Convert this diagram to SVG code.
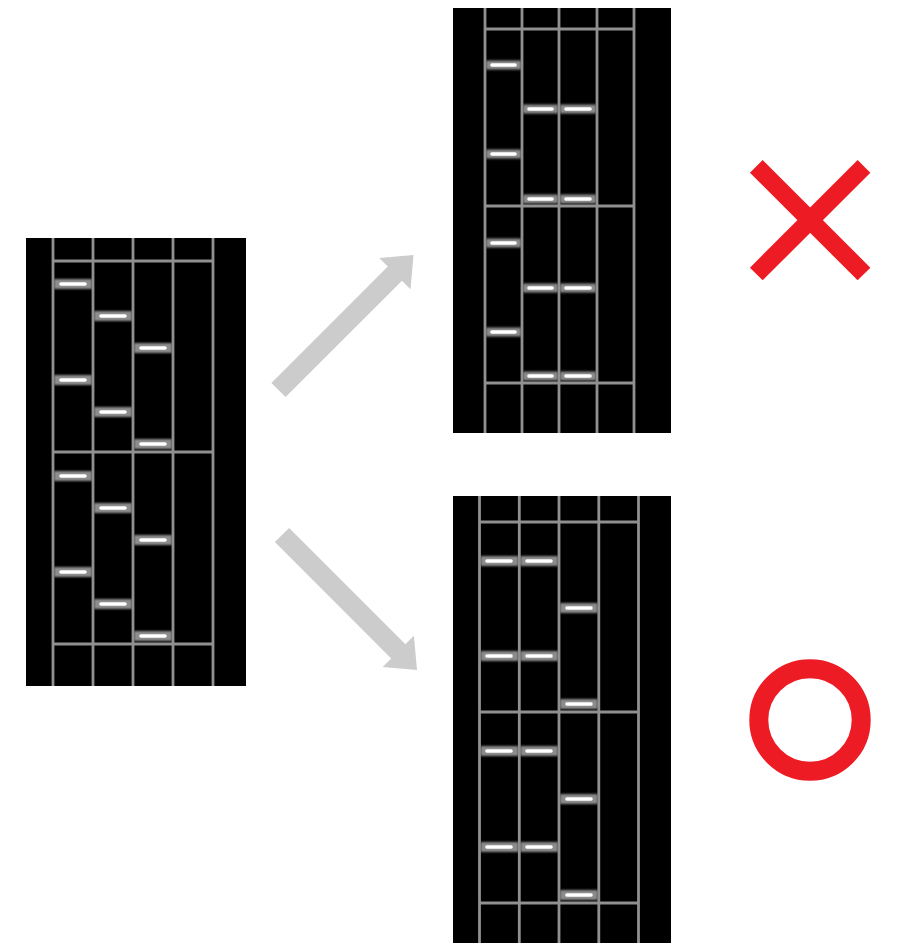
<svg xmlns="http://www.w3.org/2000/svg" width="901" height="952" viewBox="0 0 901 952">
<defs>
<filter id="soft" x="-5%" y="-5%" width="110%" height="110%"><feGaussianBlur stdDeviation="0.6"/></filter>
<filter id="glow" x="-20%" y="-100%" width="140%" height="300%"><feGaussianBlur stdDeviation="1.1"/></filter>
<style>
.bg{fill:#000}
.grid{stroke:#909090;stroke-width:2.8;fill:none}
.band{fill:#8c8c8c}
.core{stroke:#ffffff;stroke-width:3.6;stroke-linecap:round}
.arrow{fill:#cccccc}
.mark{stroke:#ed1c24;fill:none}
</style>
</defs>
<rect width="901" height="952" fill="#ffffff"/>

<g id="panel-left">
<rect class="bg" x="26" y="238" width="220" height="448"/>
<g filter="url(#soft)">
<path class="grid" d="M53 238V686M93 238V686M133 238V686M173 238V686M213 238V686M53 261H213M53 452H213M53 644H213"/>
</g>
<g filter="url(#glow)">
<rect class="band" x="54" y="279" width="38" height="10"/><rect class="band" x="54" y="375" width="38" height="10"/><rect class="band" x="54" y="471" width="38" height="10"/><rect class="band" x="54" y="567" width="38" height="10"/>
<rect class="band" x="94" y="311" width="38" height="10"/><rect class="band" x="94" y="407" width="38" height="10"/><rect class="band" x="94" y="503" width="38" height="10"/><rect class="band" x="94" y="599" width="38" height="10"/>
<rect class="band" x="134" y="343" width="38" height="10"/><rect class="band" x="134" y="439" width="38" height="10"/><rect class="band" x="134" y="535" width="38" height="10"/><rect class="band" x="134" y="631" width="38" height="10"/>
</g>
<g filter="url(#soft)">
<path class="core" d="M61 284H85M61 380H85M61 476H85M61 572H85M101 316H125M101 412H125M101 508H125M101 604H125M141 348H165M141 444H165M141 540H165M141 636H165"/>
</g>
</g>

<g id="panel-top">
<rect class="bg" x="453" y="8" width="218" height="425"/>
<g filter="url(#soft)">
<path class="grid" d="M485 8V433M522 8V433M559 8V433M597 8V433M634 8V433M485 29H634M485 206H634M485 383H634"/>
</g>
<g filter="url(#glow)">
<rect class="band" x="486" y="60.5" width="35" height="9"/><rect class="band" x="486" y="149.5" width="35" height="9"/><rect class="band" x="486" y="238.5" width="35" height="9"/><rect class="band" x="486" y="327.5" width="35" height="9"/>
<rect class="band" x="523" y="104.5" width="35" height="9"/><rect class="band" x="523" y="194.5" width="35" height="9"/><rect class="band" x="523" y="283.5" width="35" height="9"/><rect class="band" x="523" y="371.5" width="35" height="9"/>
<rect class="band" x="560" y="104.5" width="36" height="9"/><rect class="band" x="560" y="194.5" width="36" height="9"/><rect class="band" x="560" y="283.5" width="36" height="9"/><rect class="band" x="560" y="371.5" width="36" height="9"/>
</g>
<g filter="url(#soft)">
<path class="core" d="M492 65H515M492 154H515M492 243H515M492 332H515M529 109H552M529 199H552M529 288H552M529 376H552M566 109H590M566 199H590M566 288H590M566 376H590"/>
</g>
</g>

<g id="panel-bottom">
<rect class="bg" x="453" y="496" width="218" height="447"/>
<g filter="url(#soft)">
<path class="grid" d="M479.5 496V943M519.3 496V943M559 496V943M598.8 496V943M638.5 496V943M479.5 522H638.5M479.5 712H638.5M479.5 903H638.5"/>
</g>
<g filter="url(#glow)">
<rect class="band" x="480.5" y="556" width="38" height="10"/><rect class="band" x="480.5" y="651" width="38" height="10"/><rect class="band" x="480.5" y="746" width="38" height="10"/><rect class="band" x="480.5" y="842" width="38" height="10"/>
<rect class="band" x="520.3" y="556" width="37.7" height="10"/><rect class="band" x="520.3" y="651" width="37.7" height="10"/><rect class="band" x="520.3" y="746" width="37.7" height="10"/><rect class="band" x="520.3" y="842" width="37.7" height="10"/>
<rect class="band" x="560" y="603" width="37.8" height="10"/><rect class="band" x="560" y="699" width="37.8" height="10"/><rect class="band" x="560" y="794" width="37.8" height="10"/><rect class="band" x="560" y="890" width="37.8" height="10"/>
</g>
<g filter="url(#soft)">
<path class="core" d="M487 561H511M487 656H511M487 751H511M487 847H511M527 561H551M527 656H551M527 751H551M527 847H551M567 608H591M567 704H591M567 799H591M567 895H591"/>
</g>
</g>

<g id="connectors">
<polygon class="arrow" points="271.4,382.9 387.8,266.5 379.3,258 413.5,255 410.5,289.2 402,280.7 285.6,397.1"/>
<polygon class="arrow" points="274.9,542.1 289.1,527.9 405.4,644.2 413.9,635.7 417,670 382.7,666.9 391.2,658.4"/>
</g>

<g id="mark-wrong">
<path class="mark" stroke-width="18" d="M756.3 166.3L864 274M864 166.3L756.3 274"/>
</g>

<g id="mark-right">
<circle class="mark" stroke-width="19" cx="810" cy="720" r="51.2"/>
</g>
</svg>
